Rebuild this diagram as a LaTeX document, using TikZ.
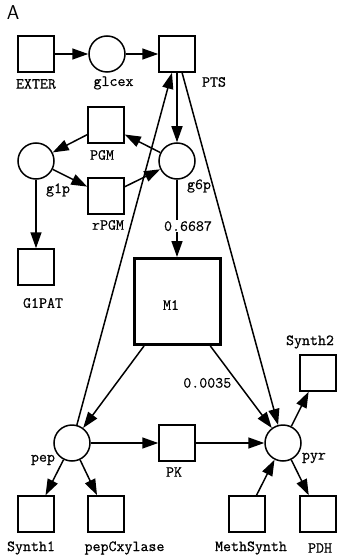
\documentclass[tikz,border=0pt]{standalone}
\usepackage{fontspec}
\usetikzlibrary{arrows.meta}
\newfontfamily\petrifont{Latin Modern Mono}[FakeBold=0.6]
\begin{document}
\begin{tikzpicture}[x=1pt,y=-1pt,
    lbl/.style={font=\petrifont\fontsize{15.5}{17}\selectfont,inner sep=0pt}]

      \useasboundingbox (0,0) rectangle (337,556);
      \node[font=\fontsize{20}{22}\selectfont\sffamily,inner sep=0pt] (panel) at (13,12.5) {A};

      % places
      \begin{scope}[every node/.style={circle,draw,line width=1.5pt,minimum size=36pt,inner sep=0pt}]
        \node (glcex) at (107,54)  {};
        \node (g1p)   at (36,161)  {};
        \node (g6p)   at (177,161) {};
        \node (pep)   at (72,443)  {};
        \node (pyr)   at (283,443) {};
      \end{scope}

      % transitions
      \begin{scope}[every node/.style={rectangle,draw,line width=1.5pt,minimum size=36pt,inner sep=0pt}]
        \node (EXTER)      at (36,54)   {};
        \node (PTS)        at (177,54)  {};
        \node (PGM)        at (106,125) {};
        \node (rPGM)       at (106,196) {};
        \node (G1PAT)      at (36,267)  {};
        \node (PK)         at (177,443) {};
        \node (Synth2)     at (318,373) {};
        \node (Synth1)     at (36,514)  {};
        \node (pepCxylase) at (106,514) {};
        \node (MethSynth)  at (247,514) {};
        \node (PDH)        at (318,514) {};
        \node[line width=3pt,minimum size=86pt] (M1) at (177,301.5) {};
      \end{scope}

      % names
      \begin{scope}[every node/.style={lbl}]
        \node (EXTER-l)      at (36,84)    {EXTER};
        \node (glcex-l)      at (113.5,83) {glcex};
        \node (PTS-l)        at (214,82)   {PTS};
        \node (PGM-l)        at (102,155)  {PGM};
        \node (g1p-l)        at (58,190)   {g1p};
        \node (g6p-l)        at (199,186)  {g6p};
        \node (rPGM-l)       at (108,225)  {rPGM};
        \node (G1PAT-l)      at (43,303)   {G1PAT};
        \node (M1-l)         at (171,305)  {M1};
        \node (Synth2-l)     at (310,342)  {Synth2};
        \node (pep-l)        at (43,460)   {pep};
        \node (PK-l)         at (174,472)  {PK};
        \node (pyr-l)        at (314,458)  {pyr};
        \node (Synth1-l)     at (31,548)   {Synth1};
        \node (pepCxylase-l) at (124.5,548){pepCxylase};
        \node (MethSynth-l)  at (251,548)  {MethSynth};
        \node (PDH-l)        at (320,548)  {PDH};
      \end{scope}

      % arcs
      \begin{scope}[every edge/.style={draw,line width=1.5pt,-{Triangle[length=16pt,width=11pt]}}]
        \path (EXTER) edge (glcex);
        \path (glcex) edge (PTS);
        \path (PTS)   edge (g6p);
        \path (pep)   edge (PTS);
        \path (PTS)   edge (pyr);
        \path (g6p)   edge (PGM);
        \path (PGM)   edge (g1p);
        \path (g1p)   edge (rPGM);
        \path (rPGM)  edge (g6p);
        \path (g1p)   edge (G1PAT);
        \path (g6p)   edge node[lbl,pos=0.6,xshift=11pt,fill=white,inner sep=1pt] {0.6687} (M1);
        \path (M1)    edge (pep);
        \path (M1)    edge node[lbl,pos=0.45,left=6pt] {0.0035} (pyr);
        \path (pep)   edge (PK);
        \path (PK)    edge (pyr);
        \path (pep)   edge (Synth1);
        \path (pep)   edge (pepCxylase);
        \path (pyr)   edge (Synth2);
        \path (pyr)   edge (PDH);
        \path (MethSynth) edge (pyr);
      \end{scope}

\end{tikzpicture}
\end{document}
